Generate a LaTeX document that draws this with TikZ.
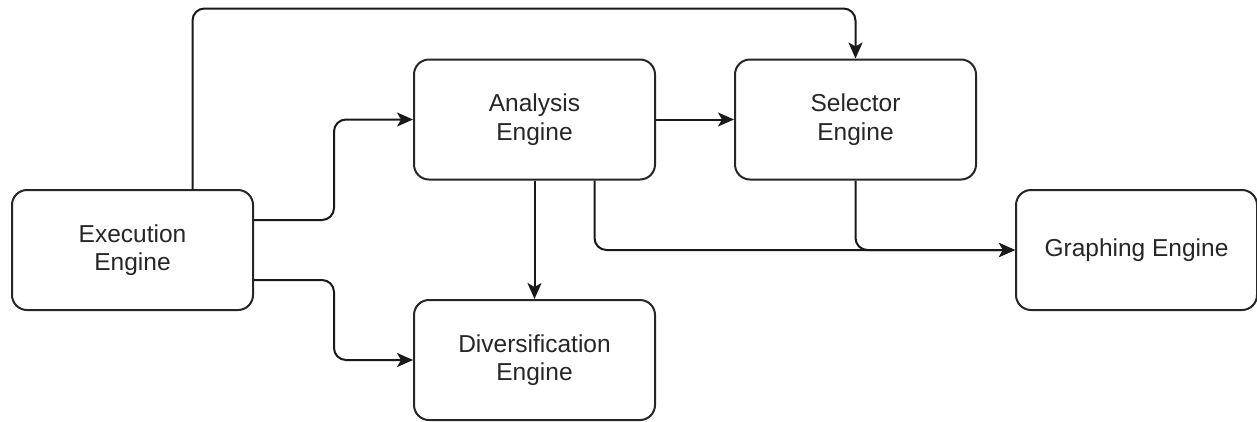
\documentclass[tikz,border=0pt]{standalone}
\usepackage{fontspec}
\setmainfont{Liberation Sans}
\usetikzlibrary{arrows.meta}
\begin{document}
\begin{tikzpicture}[x=1pt,y=-1pt,
  engine/.style={draw=black!85, line width=2pt, fill=white, rounded corners=15pt,
    minimum width=241pt, minimum height=120pt, align=center, inner sep=0pt,
    font=\fontsize{24.5}{28.5}\selectfont, text=black!85},
  link/.style={draw=black!90, line width=2pt, rounded corners=12pt,
    -{Stealth[length=16pt,width=14pt,inset=4pt]}}]
\useasboundingbox (0,0) rectangle (1257,421);

% engines
\node[engine] (exec) at (132.5,250) {Execution\\Engine};
\node[engine] (ana)  at (534.5,119.5) {Analysis\\Engine};
\node[engine] (sel)  at (855.5,119.5) {Selector\\Engine};
\node[engine] (graph) at (1136.5,250) {Graphing Engine};
\node[engine] (div)  at (534.5,360) {Diversification\\Engine};

% connections
\draw[link] ([xshift=60pt]exec.north) |- ([yshift=50pt]sel.north) -- (sel.north);
\draw[link] ([yshift=30pt]exec.east) -- ++(80,0) |- (ana.west);
\draw[link] ([yshift=-30pt]exec.east) -- ++(80,0) |- (div.west);
\draw[link] (ana.east) -- (sel.west);
\draw[link] (ana.south) -- (div.north);
\draw[link] ([xshift=60pt]ana.south) |- (graph.west);
\draw[link] (sel.south) |- (graph.west);
\end{tikzpicture}
\end{document}
